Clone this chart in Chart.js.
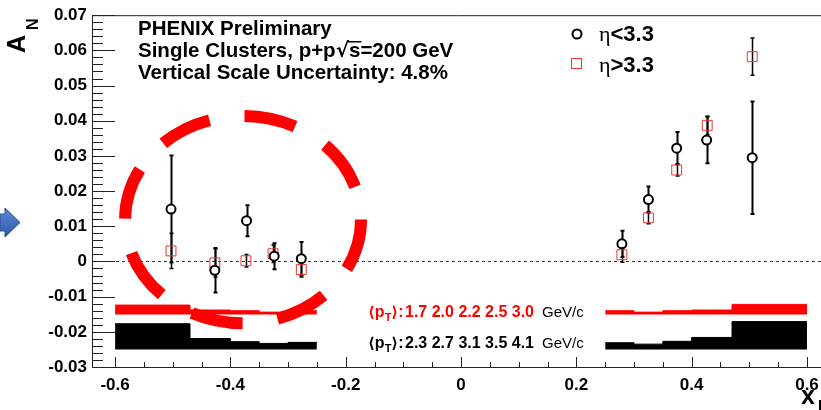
<!DOCTYPE html>
<html>
<head>
<meta charset="utf-8">
<script src="https://cdn.jsdelivr.net/npm/chart.js@4.4.1/dist/chart.umd.min.js"></script>
<style>
  html, body { margin: 0; padding: 0; background: #fff; }
  #wrap { width: 821px; height: 410px; }
</style>
</head>
<body>
<div id="wrap"><canvas id="anChart" width="821" height="410"></canvas></div>
<script>
// A_N vs x_F, two pseudorapidity bins
const etaLowX   = [-0.503, -0.427, -0.372, -0.324, -0.277, 0.279, 0.325, 0.374, 0.426, 0.505];
const etaLowAN  = [0.0149, -0.0025, 0.0116, 0.0015, 0.0008, 0.0050, 0.0176, 0.0322, 0.0345, 0.0295];
const etaLowErr = [0.0152, 0.0063, 0.0044, 0.0037, 0.0047, 0.0037, 0.0037, 0.0046, 0.0066, 0.0160];

const etaHighX   = [-0.503, -0.427, -0.373, -0.326, -0.277, 0.279, 0.325, 0.374, 0.427, 0.505];
const etaHighAN  = [0.0030, -0.0004, 0.0002, 0.0022, -0.0023, 0.0019, 0.0124, 0.0260, 0.0387, 0.0582];
const etaHighErr = [0.0050, 0.0040, 0.0018, 0.0025, 0.0021, 0.0021, 0.0017, 0.0017, 0.0026, 0.0053];

// <pT> bands per x_F bin (top edge of each step)
const binEdgesNeg = [-0.60, -0.47, -0.40, -0.35, -0.30, -0.25];
const binEdgesPos = [0.25, 0.30, 0.35, 0.40, 0.47, 0.60];
const redBandNeg   = [-0.0124, -0.0138, -0.0140, -0.0144, -0.0140];
const redBandPos   = [-0.0140, -0.0144, -0.0140, -0.0138, -0.0122];
const blackBandNeg = [-0.0177, -0.0219, -0.0228, -0.0233, -0.0230];
const blackBandPos = [-0.0231, -0.0235, -0.0227, -0.0216, -0.0171];
const redBandBase = -0.0151;
const blackBandBase = -0.0250;

const ptRed   = ['1.7', '2.0', '2.2', '2.5', '3.0'];
const ptBlack = ['2.3', '2.7', '3.1', '3.5', '4.1'];

const xTicks = [-0.6, -0.4, -0.2, 0, 0.2, 0.4, 0.6];
const yTicks = [-0.03, -0.02, -0.01, 0, 0.01, 0.02, 0.03, 0.04, 0.05, 0.06, 0.07];

const SANS = '"Liberation Sans", Arial, Helvetica, sans-serif';
Chart.defaults.font.family = SANS;
Chart.defaults.color = '#000';

function fmt(v) {
  const r = Math.round(v * 100) / 100;
  return r === 0 ? '0' : String(r);
}

function points(xs, ys) {
  return xs.map((x, i) => ({ x, y: ys[i] }));
}

function band(edges, tops, base, color) {
  const pts = edges.map((x, i) => ({ x, y: tops[Math.min(i, tops.length - 1)] }));
  return {
    type: 'line', data: pts, stepped: true, fill: { value: base },
    backgroundColor: color, borderColor: color, borderWidth: 1,
    pointRadius: 0, order: 5
  };
}

function drawErrors(ctx, xs, ys, xv, yv, ev, lw) {
  ctx.save();
  ctx.strokeStyle = '#000';
  ctx.lineWidth = lw;
  ctx.beginPath();
  xv.forEach((v, i) => {
    const px = Math.round(xs.getPixelForValue(v)) + 0.5;
    const top = ys.getPixelForValue(yv[i] + ev[i]);
    const bot = ys.getPixelForValue(yv[i] - ev[i]);
    ctx.moveTo(px, top); ctx.lineTo(px, bot);
    ctx.moveTo(px - 2, top); ctx.lineTo(px + 2, top);
    ctx.moveTo(px - 2, bot); ctx.lineTo(px + 2, bot);
  });
  ctx.stroke();
  ctx.restore();
}

// draw a run of text pieces left to right
function textRun(ctx, x, y, parts) {
  parts.forEach(p => {
    ctx.font = p.font;
    ctx.fillStyle = p.color || '#000';
    if (p.at !== undefined) x = p.at;
    ctx.fillText(p.t, x, y + (p.dy || 0));
    x += ctx.measureText(p.t).width;
  });
  return x;
}

const decorations = {
  id: 'decorations',
  // the frame runs off the right edge of the canvas
  afterLayout(chart) {
    const { chartArea: a, scales: { x } } = chart;
    a.right = chart.width;
    a.width = a.right - a.left;
    x.right = chart.width;
    x.width = x.right - x.left;
    x.configure();
  },
  beforeDatasetsDraw(chart) {
    const { ctx, chartArea: a, scales: { x, y } } = chart;
    ctx.save();
    ctx.strokeStyle = '#333';
    ctx.lineWidth = 1;
    ctx.setLineDash([3, 3]);
    const y0 = Math.round(y.getPixelForValue(0)) + 0.5;
    ctx.beginPath(); ctx.moveTo(a.left, y0); ctx.lineTo(a.right, y0); ctx.stroke();
    ctx.restore();
    drawErrors(ctx, x, y, etaHighX, etaHighAN, etaHighErr, 1.5);
    drawErrors(ctx, x, y, etaLowX, etaLowAN, etaLowErr, 2);
  },
  afterDatasetsDraw(chart) {
    const { ctx, scales: { x, y } } = chart;
    // dashed highlight ring around the negative x_F points
    const cx = x.getPixelForValue(-0.378), cy = y.getPixelForValue(0.0119);
    const rx = x.getPixelForValue(-0.378 + 0.2046) - cx;
    const ry = cy - y.getPixelForValue(0.0119 + 0.02946);
    ctx.save();
    ctx.strokeStyle = '#ff0000';
    ctx.lineWidth = 12;
    ctx.lineCap = 'butt';
    ctx.setLineDash([52, 35.3]);
    ctx.beginPath();
    ctx.ellipse(cx, cy, rx, ry, 0, 0, Math.PI * 2);
    ctx.stroke();
    ctx.restore();
  },
  afterDraw(chart) {
    const { ctx, chartArea: a, scales: { x, y } } = chart;
    ctx.save();
    // frame top and inner ticks
    ctx.strokeStyle = '#222';
    ctx.lineWidth = 1;
    ctx.beginPath();
    ctx.moveTo(a.left, a.top + 0.5); ctx.lineTo(a.right, a.top + 0.5);
    for (let k = -15; k <= 35; k++) {
      const py = Math.round(y.getPixelForValue(k * 0.002)) + 0.5;
      const len = k % 5 === 0 ? 23 : 11;
      ctx.moveTo(a.left, py); ctx.lineTo(a.left + len, py);
    }
    for (let k = -12; k <= 12; k++) {
      const px = Math.round(x.getPixelForValue(k * 0.05)) + 0.5;
      const len = k % 4 === 0 ? 10 : 5;
      ctx.moveTo(px, a.bottom); ctx.lineTo(px, a.bottom - len);
    }
    ctx.stroke();

    ctx.textBaseline = 'alphabetic';
    ctx.textAlign = 'left';
    const BH = 'bold 20.5px ' + SANS;

    // header
    textRun(ctx, 138, 35, [{ t: 'PHENIX Preliminary', font: BH }]);
    let ex = textRun(ctx, 138, 57, [{ t: 'Single Clusters, p+p', font: BH }, { t: '\u221A', font: 'bold 20px "DejaVu Sans", sans-serif' }]);
    ctx.font = BH;
    const sw = ctx.measureText('s').width;
    ctx.fillText('s', ex, 57);
    ctx.fillRect(ex - 1, 41, sw + 2, 1.5);
    textRun(ctx, ex + sw, 57, [{ t: '=200 GeV', font: BH }]);
    textRun(ctx, 138, 79, [{ t: 'Vertical Scale Uncertainty: 4.8%', font: BH }]);

    // legend
    ctx.lineWidth = 2;
    ctx.strokeStyle = '#000';
    ctx.beginPath(); ctx.arc(577, 34, 4.5, 0, Math.PI * 2); ctx.stroke();
    ctx.lineWidth = 1;
    ctx.strokeStyle = '#ee3333';
    ctx.strokeRect(571.5, 58.5, 10, 10);
    const B22 = 'bold 22px ' + SANS, R22 = '22px "Liberation Serif", serif';
    textRun(ctx, 599, 41, [{ t: '\u03B7', font: R22 }, { t: '<3.3', font: B22 }]);
    textRun(ctx, 599, 72, [{ t: '\u03B7', font: R22 }, { t: '>3.3', font: B22 }]);

    // <pT> annotations
    const B16 = 'bold 16px ' + SANS, BR = 'bold 15px "DejaVu Sans", sans-serif';
    const ptLine = (yy, vals, col) => {
      textRun(ctx, 368, yy, [
        { t: '\u27E8', font: BR, color: col },
        { t: 'p', font: B16, color: col },
        { t: 'T', font: 'bold 11px ' + SANS, color: col, dy: 4 },
        { t: '\u27E9', font: BR, color: col },
        { t: ':', font: B16, color: col },
        { t: vals.join(' '), font: B16, color: col, at: 405 },
        { t: 'GeV/c', font: '15px ' + SANS, color: '#000', at: 542 }
      ]);
    };
    ptLine(317, ptRed, '#ff0000');
    ptLine(348, ptBlack, '#000');

    // axis titles
    ctx.fillStyle = '#000';
    ctx.save();
    ctx.translate(25, 53);
    ctx.rotate(-Math.PI / 2);
    ctx.font = 'bold 25px ' + SANS;
    ctx.fillText('A', 0, 0);
    const aw = ctx.measureText('A').width;
    ctx.font = 'bold 16px ' + SANS;
    ctx.fillText('N', aw + 5, 13);
    ctx.restore();
    ctx.font = 'bold 25px ' + SANS;
    ctx.fillText('x', 801, 404);
    ctx.font = 'bold 15px ' + SANS;
    ctx.fillText('F', 818, 410);

    // blue arrow at the left margin
    const g = ctx.createLinearGradient(0, 208, 0, 237);
    g.addColorStop(0, '#5b8ad6');
    g.addColorStop(1, '#2f5aa8');
    ctx.fillStyle = g;
    ctx.strokeStyle = '#2a4f94';
    ctx.lineWidth = 1;
    ctx.beginPath();
    ctx.moveTo(0, 214); ctx.lineTo(5, 214); ctx.lineTo(5, 208); ctx.lineTo(20, 222.5);
    ctx.lineTo(5, 237); ctx.lineTo(5, 231); ctx.lineTo(0, 231); ctx.closePath();
    ctx.fill(); ctx.stroke();
    ctx.restore();
  }
};

new Chart(document.getElementById('anChart'), {
  type: 'scatter',
  data: {
    datasets: [
      {
        label: '\u03B7<3.3', data: points(etaLowX, etaLowAN),
        pointStyle: 'circle', pointRadius: 4.5, borderWidth: 2,
        borderColor: '#000', backgroundColor: '#fff', order: 1
      },
      {
        label: '\u03B7>3.3', data: points(etaHighX, etaHighAN),
        pointStyle: 'rect', pointRadius: 7, borderWidth: 1,
        borderColor: '#ee3333', backgroundColor: 'rgba(0,0,0,0)', order: 2
      },
      band(binEdgesNeg, redBandNeg, redBandBase, '#ff0000'),
      band(binEdgesPos, redBandPos, redBandBase, '#ff0000'),
      band(binEdgesNeg, blackBandNeg, blackBandBase, '#000'),
      band(binEdgesPos, blackBandPos, blackBandBase, '#000')
    ]
  },
  options: {
    responsive: false,
    animation: false,
    layout: { padding: { top: 14, right: 0, left: 0, bottom: 0 } },
    plugins: { legend: { display: false }, tooltip: { enabled: false } },
    scales: {
      x: {
        type: 'linear', min: -0.64, max: 0.6243,
        afterBuildTicks: s => { s.ticks = xTicks.map(v => ({ value: v })); },
        afterFit: s => { s.height = 43; },
        grid: { display: false, drawTicks: false },
        border: { display: true, color: '#222', width: 1 },
        ticks: { padding: 8, maxRotation: 0, autoSkip: false, font: { size: 17, weight: 'bold' }, callback: v => fmt(v) }
      },
      y: {
        type: 'linear', min: -0.03, max: 0.07,
        afterBuildTicks: s => { s.ticks = yTicks.map(v => ({ value: v })); },
        afterFit: s => { s.width = 92; },
        grid: { display: false, drawTicks: false },
        border: { display: true, color: '#222', width: 1 },
        ticks: { padding: 5, autoSkip: false, font: { size: 17, weight: 'bold' }, callback: v => fmt(v) }
      }
    }
  },
  plugins: [decorations]
});
</script>
</body>
</html>
